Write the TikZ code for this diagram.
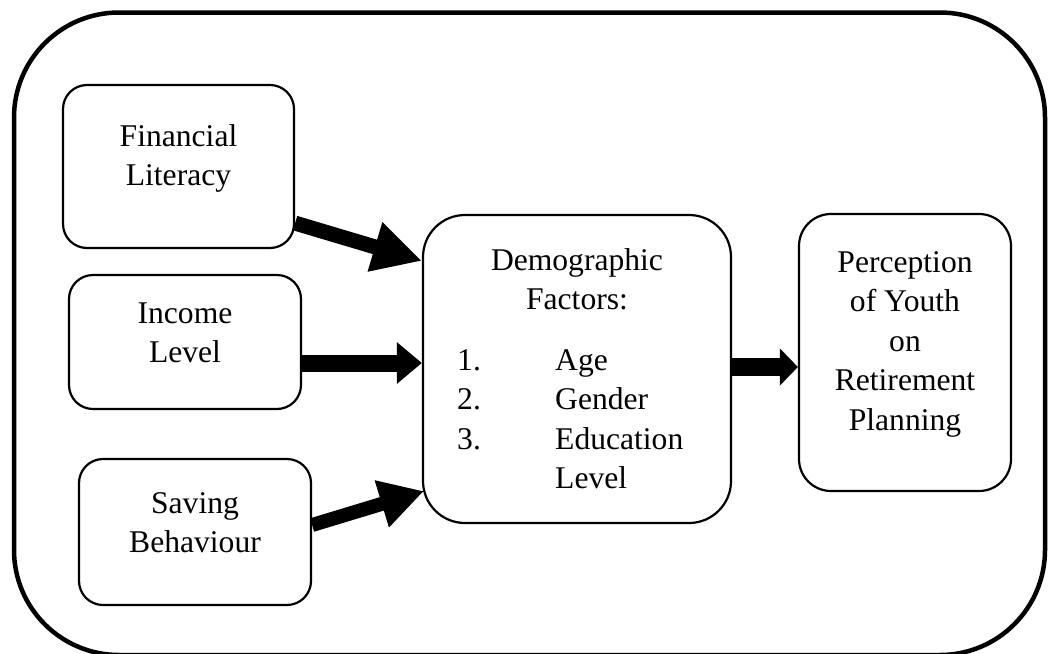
\documentclass[tikz,border=0pt]{standalone}
\usepackage{fontspec}
\setmainfont{Liberation Serif}
\usetikzlibrary{arrows.meta,calc}
\begin{document}
\begin{tikzpicture}[x=1pt,y=-1pt,
  box/.style={draw,line width=2.2pt,inner sep=0pt},
  txt/.style={inner sep=0pt,align=center,font=\fontsize{31.6}{39.5}\selectfont},
  fat/.style={line width=#1,-{Triangle[length=40pt,width=44pt]}},
]
\useasboundingbox (0,0) rectangle (1048,653);
\clip (0,0) rectangle (1048,653);
% outer frame
\draw[line width=4.5pt,rounded corners=105pt] (14,12.5) rectangle (1045,655);
% boxes
\node[box,rounded corners=24pt,minimum width=231pt,minimum height=163pt] (fin) at (178.5,166.5) {};
\node[box,rounded corners=24pt,minimum width=232pt,minimum height=134pt] (inc) at (185,342) {};
\node[box,rounded corners=24pt,minimum width=232pt,minimum height=146pt] (sav) at (195,532) {};
\node[box,rounded corners=42pt,minimum width=308pt,minimum height=308pt] (demo) at (577,369) {};
\node[box,rounded corners=32pt,minimum width=212pt,minimum height=277pt] (per) at (905,352.5) {};
% texts
\node[txt] (fint) at (178.5,157.9) {\strut Financial\\\strut Literacy};
\node[txt] (inct) at (185,334.9) {\strut Income\\\strut Level};
\node[txt] (savt) at (195,524.9) {\strut Saving\\\strut Behaviour};
\node[txt] (demot) at (577,281.9) {\strut Demographic\\\strut Factors:};
\node[txt,align=left,anchor=north west] (demol) at (457,342.35)
  {\strut\makebox[98pt][l]{1.}Age\\\strut\makebox[98pt][l]{2.}Gender\\\strut\makebox[98pt][l]{3.}Education\\\strut\makebox[98pt][l]{}Level};
\node[txt] (pert) at (905,343.1) {\strut Perception\\\strut of Youth\\\strut on\\\strut Retirement\\\strut Planning};
% arrows
\draw[line width=15pt,-{Triangle[length=49pt,width=48pt]}] ($(fin.south east)+(0,-26)$) -- ($(demo.north west)+(0,47)$);
\draw[line width=17pt,-{Triangle[length=25pt,width=40pt]}] ($(inc.east)+(0,21)$) -- ($(demo.west)+(0,-6)$);
\draw[line width=14pt,-{Triangle[length=44pt,width=46pt]}] ($(sav.east)+(0,-7)$) -- ($(demo.south west)+(2,-33)$);
\draw[line width=18pt,-{Triangle[length=18pt,width=36pt]}] ($(demo.east)+(0,-2)$) -- ($(per.west)+(0,14.5)$);
\end{tikzpicture}
\end{document}
